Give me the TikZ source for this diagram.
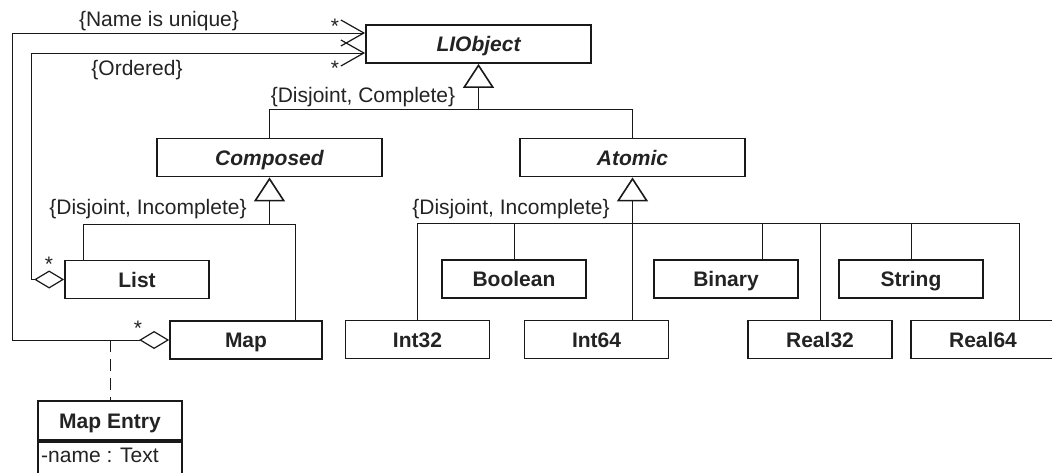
\documentclass[tikz,border=0pt]{standalone}
\usepackage{fontspec}
\setmainfont{Liberation Sans}
\usetikzlibrary{arrows.meta}
\definecolor{ink}{RGB}{25,25,25}
\definecolor{txt}{RGB}{35,35,35}
\begin{document}
\begin{tikzpicture}[x=1pt,y=-1pt,
  every node/.style={text=txt},
  cls/.style={draw=ink, line width=1.8pt, minimum width=144pt, minimum height=38pt,
    inner sep=0pt, fill=white, text height=15pt, text depth=0pt,
    font=\fontsize{21}{25}\selectfont\bfseries},
  abs/.style={cls, minimum width=225pt, font=\fontsize{21}{25}\selectfont\bfseries\itshape},
  lbl/.style={inner sep=0pt, font=\fontsize{21}{25}\selectfont},
  mult/.style={lbl, anchor=base},
  link/.style={draw=ink, line width=1pt},
  gen/.style={draw=ink, line width=1.6pt,
    -{Triangle[open, length=24pt, width=31pt, line width=1.6pt]}},
  assoc/.style={link,
    {Diamond[open, length=30pt, width=18pt, line width=1.2pt]}-{Straight Barb[length=23pt, width=26pt, line width=1.2pt]}},
  note/.style={link, dash pattern=on 12pt off 7pt}
]
\useasboundingbox (0,0) rectangle (1052,472);
\clip (0,0) rectangle (1052,472);

% classes
\node[abs] (LIObject) at (478.5,44) {LIObject};
\node[abs] (Composed) at (269.5,157.5) {Composed};
\node[abs] (Atomic) at (632.5,157.5) {Atomic};
\node[cls] (List) at (137,279.5) {List};
\node[cls, minimum width=152pt] (Map) at (246,340) {Map};
\node[cls] (Boolean) at (514,279) {Boolean};
\node[cls] (Binary) at (726,279) {Binary};
\node[cls] (String) at (911,279) {String};
\node[cls] (Int32) at (417.5,339.5) {Int32};
\node[cls] (Int64) at (596.5,339.5) {Int64};
\node[cls] (Real32) at (820,339.5) {Real32};
\node[cls] (Real64) at (983,339.5) {Real64};

% association class with its attribute compartment
\node[cls, minimum height=39pt] (MapEntry) at (110,420.5) {Map Entry};
\node[cls, anchor=north, minimum height=46pt] (MapAttr) at (MapEntry.south) {};
\node[lbl, anchor=base west] (attr) at (41,462) {-name : Text};

% generalization: LIObject
\coordinate (hubL) at (478.5,109);
\draw[gen] (hubL) -- (LIObject.south);
\draw[link] (Composed.north) |- (hubL);
\draw[link] (Atomic.north) |- (hubL);

% generalization: Composed
\coordinate (hubC) at (269.5,224);
\draw[gen] (hubC) -- (Composed.south);
\draw[link] ([xshift=-54pt]List.north) |- (hubC);
\draw[link] ([xshift=49pt]Map.north) |- (hubC);

% generalization: Atomic
\coordinate (hubA) at (632.5,223);
\draw[gen] (hubA) -- (Atomic.south);
\draw[link] (Int32.north) |- (hubA);
\draw[link] (Boolean.north) |- (hubA);
\draw[link] ([xshift=36pt]Int64.north) -- (hubA);
\draw[link] ([xshift=36pt]Binary.north) |- (hubA);
\draw[link] (Real32.north) |- (hubA);
\draw[link] (String.north) |- (hubA);
\draw[link] ([xshift=36pt]Real64.north) |- (hubA);

% aggregations back to LIObject
\coordinate (outerL) at (12,0);
\coordinate (innerL) at (31,0);
\draw[assoc] (Map.west) -- (Map.west -| outerL) |- ([yshift=11pt]LIObject.west);
\draw[assoc] (List.west) -- (List.west -| innerL) |- ([yshift=-9pt]LIObject.west);
\draw[note] (MapEntry.north |- Map.west) -- (MapEntry.north);

% constraints and multiplicities
\node[lbl] (nameu) at (159,21) {\{Name is unique\}};
\node[lbl] (ord) at (137,70) {\{Ordered\}};
\node[lbl] (djc) at (363,97.5) {\{Disjoint, Complete\}};
\node[lbl] (dji1) at (148,209) {\{Disjoint, Incomplete\}};
\node[lbl] (dji2) at (511,209) {\{Disjoint, Incomplete\}};
\node[mult] (m1) at (335,33) {*};
\node[mult] (m2) at (335,75) {*};
\node[mult] (m3) at (49,271) {*};
\node[mult] (m4) at (138,335) {*};
\end{tikzpicture}
\end{document}
